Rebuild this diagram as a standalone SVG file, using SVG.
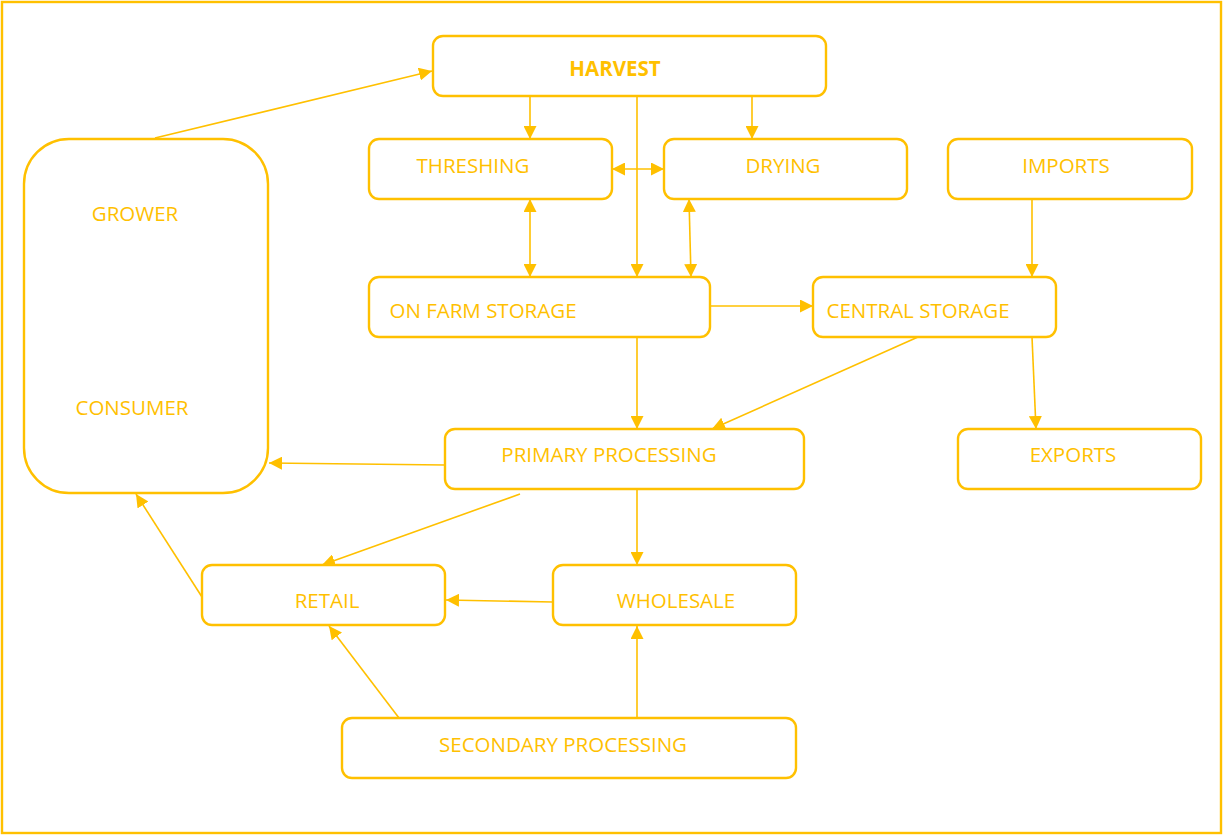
<svg xmlns="http://www.w3.org/2000/svg" width="1225" height="835" viewBox="0 0 1225 835">
<style>
.box{fill:#fff;stroke:#FFC000;stroke-width:2.4}
.lbl{font-family:"Open Sans","Liberation Sans",sans-serif;font-size:20.5px;fill:#FFC000;text-anchor:middle;dominant-baseline:central}
.b{font-weight:bold}
.con line{stroke:#FFC000;stroke-width:1.6;fill:none}
.a{marker-end:url(#ah)}
.d{marker-start:url(#ah);marker-end:url(#ah)}
</style>
<defs>
<marker id="ah" viewBox="0 0 12 12" refX="12" refY="6" markerWidth="13" markerHeight="13" markerUnits="userSpaceOnUse" orient="auto-start-reverse">
<path d="M0,0 L12,6 L0,12 Z" fill="#FFC000"/>
</marker>
</defs>
<rect x="2" y="2" width="1219" height="831" fill="#fff" stroke="#FFC000" stroke-width="2.4"/>
<g class="con">
<line class="a" x1="155" y1="138" x2="432" y2="71"/>
<line class="a" x1="530" y1="96" x2="530" y2="139"/>
<line class="a" x1="752" y1="96" x2="752" y2="139"/>
<line class="a" x1="637" y1="96" x2="637" y2="277"/>
<line class="d" x1="612" y1="169" x2="664" y2="169"/>
<line class="d" x1="530" y1="199" x2="530" y2="277"/>
<line class="d" x1="689" y1="199" x2="691" y2="277"/>
<line class="a" x1="1032" y1="199" x2="1032" y2="277"/>
<line class="a" x1="710" y1="306" x2="813" y2="306"/>
<line class="a" x1="637" y1="337" x2="637" y2="429"/>
<line class="a" x1="918" y1="337" x2="712" y2="429"/>
<line class="a" x1="1032" y1="337" x2="1036" y2="429"/>
<line class="a" x1="445" y1="465" x2="269" y2="463"/>
<line class="a" x1="520" y1="494" x2="322" y2="565"/>
<line class="a" x1="637" y1="489" x2="637" y2="565"/>
<line class="a" x1="553" y1="602" x2="446" y2="600"/>
<line class="a" x1="202" y1="597" x2="136" y2="494"/>
<line class="a" x1="399" y1="718" x2="329" y2="626"/>
<line class="a" x1="637" y1="718" x2="637" y2="626"/>
</g>
<g id="grower-consumer"><rect class="box" x="24" y="139" width="244" height="354" rx="45"/><text class="lbl" x="135" y="213">GROWER</text><text class="lbl" x="132" y="407">CONSUMER</text></g>
<g id="harvest"><rect class="box" x="433" y="36" width="393" height="60" rx="10"/><text class="lbl b" x="615" y="68">HARVEST</text></g>
<g id="threshing"><rect class="box" x="369" y="139" width="243" height="60" rx="10"/><text class="lbl" x="473" y="165">THRESHING</text></g>
<g id="drying"><rect class="box" x="664" y="139" width="243" height="60" rx="10"/><text class="lbl" x="783" y="165">DRYING</text></g>
<g id="imports"><rect class="box" x="948" y="139" width="244" height="60" rx="10"/><text class="lbl" x="1066" y="165">IMPORTS</text></g>
<g id="on-farm-storage"><rect class="box" x="369" y="277" width="341" height="60" rx="10"/><text class="lbl" x="483" y="310">ON FARM STORAGE</text></g>
<g id="central-storage"><rect class="box" x="813" y="277" width="243" height="60" rx="10"/><text class="lbl" x="918" y="310">CENTRAL STORAGE</text></g>
<g id="primary-processing"><rect class="box" x="445" y="429" width="359" height="60" rx="10"/><text class="lbl" x="609" y="454">PRIMARY PROCESSING</text></g>
<g id="exports"><rect class="box" x="958" y="429" width="243" height="60" rx="10"/><text class="lbl" x="1073" y="454">EXPORTS</text></g>
<g id="retail"><rect class="box" x="202" y="565" width="243" height="60" rx="10"/><text class="lbl" x="327" y="600">RETAIL</text></g>
<g id="wholesale"><rect class="box" x="553" y="565" width="243" height="60" rx="10"/><text class="lbl" x="676" y="600">WHOLESALE</text></g>
<g id="secondary-processing"><rect class="box" x="342" y="718" width="454" height="60" rx="10"/><text class="lbl" x="563" y="744">SECONDARY PROCESSING</text></g>
</svg>
